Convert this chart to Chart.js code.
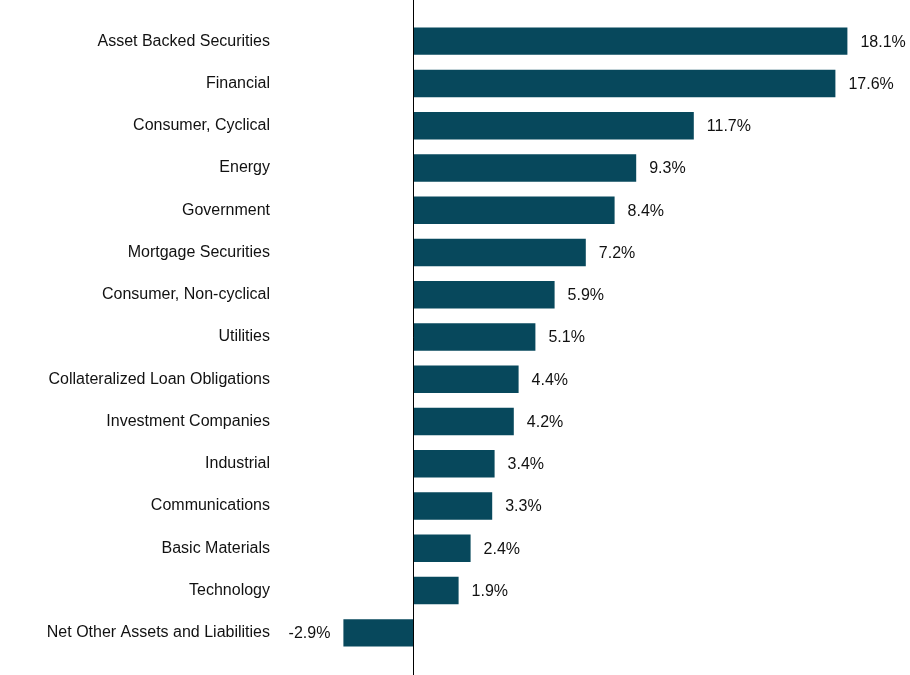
<!DOCTYPE html>
<html>
<head>
<meta charset="utf-8">
<script src="https://cdn.jsdelivr.net/npm/chart.js@4/dist/chart.umd.min.js"></script>
<style>
  html, body { margin: 0; padding: 0; background: #fff; }
  #wrap { width: 910px; height: 675px; position: relative; }
</style>
</head>
<body>
<div id="wrap"><canvas id="chart-sectors"></canvas></div>
<script>
const categories = [
  'Asset Backed Securities', 'Financial', 'Consumer, Cyclical', 'Energy', 'Government',
  'Mortgage Securities', 'Consumer, Non-cyclical', 'Utilities', 'Collateralized Loan Obligations',
  'Investment Companies', 'Industrial', 'Communications', 'Basic Materials', 'Technology',
  'Net Other Assets and Liabilities'
];
const weights = [18.1, 17.6, 11.7, 9.3, 8.4, 7.2, 5.9, 5.1, 4.4, 4.2, 3.4, 3.3, 2.4, 1.9, -2.9];

const BAR = '#07485c';
const FONT = "'Liberation Sans Narrow', 'Arial Narrow', 'Liberation Sans', Arial, sans-serif";

// zero line across the full canvas height
const zeroLine = {
  id: 'zeroLine',
  afterDatasetsDraw(chart) {
    const { ctx, scales: { x } } = chart;
    const px = Math.round(x.getPixelForValue(0)) + 0.5;
    ctx.save();
    ctx.strokeStyle = '#000';
    ctx.lineWidth = 1;
    ctx.beginPath();
    ctx.moveTo(px, 0);
    ctx.lineTo(px, chart.height);
    ctx.stroke();
    ctx.restore();
  }
};

// value labels next to each bar
const valueLabels = {
  id: 'valueLabels',
  afterDatasetsDraw(chart) {
    const { ctx } = chart;
    const meta = chart.getDatasetMeta(0);
    ctx.save();
    ctx.font = '16px ' + FONT;
    ctx.fillStyle = '#111';
    ctx.textBaseline = 'middle';
    meta.data.forEach((bar, i) => {
      const v = weights[i];
      const txt = v.toFixed(1) + '%';
      if (v >= 0) {
        ctx.textAlign = 'left';
        ctx.fillText(txt, bar.x + 13, bar.y + 1);
      } else {
        ctx.textAlign = 'right';
        ctx.fillText(txt, bar.x - 13, bar.y + 1);
      }
    });
    ctx.restore();
  }
};

new Chart(document.getElementById('chart-sectors'), {
  type: 'bar',
  data: {
    labels: categories,
    datasets: [{
      data: weights,
      backgroundColor: BAR,
      borderWidth: 0,
      barPercentage: 0.65,
      categoryPercentage: 1,
    }],
  },
  options: {
    indexAxis: 'y',
    responsive: true, maintainAspectRatio: false,
    animation: false,
    layout: { padding: { top: 20, bottom: 21, left: 0, right: 17 } },
    plugins: { legend: { display: false }, tooltip: { enabled: false } },
    scales: {
      x: { display: false, min: -5, max: 20 },
      y: {
        grid: { display: false, drawTicks: false },
        border: { display: false },
        afterFit: s => { s.width = 293; s.paddingTop = 0; s.paddingBottom = 0; },
        ticks: { color: '#111', padding: 23, font: { family: FONT, size: 16 } },
      },
    },
  },
  plugins: [zeroLine, valueLabels],
});
</script>
</body>
</html>
